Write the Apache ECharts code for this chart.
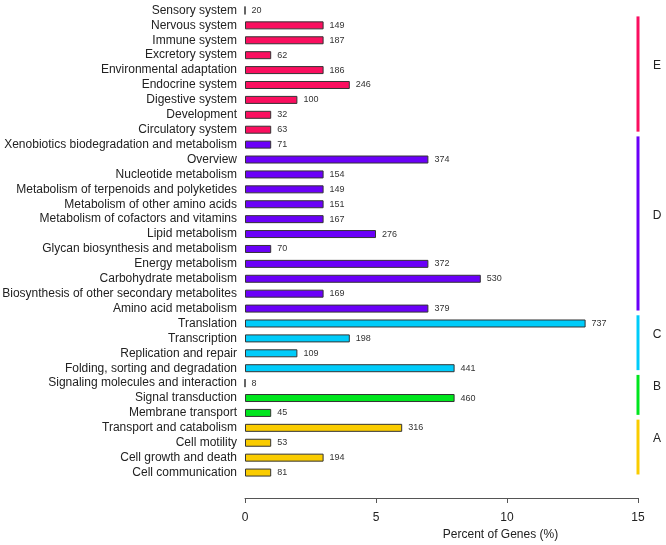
<!DOCTYPE html>
<html>
<head>
<meta charset="utf-8">
<script src="https://cdn.jsdelivr.net/npm/echarts@6/dist/echarts.min.js"></script>
<style>html,body{margin:0;padding:0;background:#fff;}#c{width:666px;height:545px;}</style>
</head>
<body>
<div id="c"></div>
<script>
// Categories from top to bottom
const categories = [
  "Sensory system","Nervous system","Immune system","Excretory system","Environmental adaptation",
  "Endocrine system","Digestive system","Development","Circulatory system",
  "Xenobiotics biodegradation and metabolism","Overview","Nucleotide metabolism",
  "Metabolism of terpenoids and polyketides","Metabolism of other amino acids",
  "Metabolism of cofactors and vitamins","Lipid metabolism","Glycan biosynthesis and metabolism",
  "Energy metabolism","Carbohydrate metabolism","Biosynthesis of other secondary metabolites",
  "Amino acid metabolism",
  "Translation","Transcription","Replication and repair","Folding, sorting and degradation",
  "Signaling molecules and interaction","Signal transduction","Membrane transport",
  "Transport and catabolism","Cell motility","Cell growth and death","Cell communication"
];
// Percent of genes (bar length)
const percents = [
  0,3,3,1,3,4,2,1,1,
  1,7,3,3,3,3,5,1,7,9,3,7,
  13,4,2,8,
  0,8,1,
  6,1,3,1
];
// Gene counts (labels)
const counts = [
  20,149,187,62,186,246,100,32,63,
  71,374,154,149,151,167,276,70,372,530,169,379,
  737,198,109,441,
  8,460,45,
  316,53,194,81
];
// Group of each category
const groupOf = [
  "E","E","E","E","E","E","E","E","E",
  "D","D","D","D","D","D","D","D","D","D","D","D",
  "C","C","C","C",
  "B","B","B",
  "A","A","A","A"
];
const groupNames = ["E","D","C","B","A"];
const groupColors = {E:"#FA0F5F", D:"#6A00F8", C:"#00CCFA", B:"#00E61E", A:"#FACC00"};
const xTicks = [0,5,10,15];

const barData = percents.map((v,i)=>({
  value: v,
  count: counts[i],
  itemStyle: {color: groupColors[groupOf[i]]}
}));

const bracketData = groupNames.map(g=>{
  const s = groupOf.indexOf(g), e = groupOf.lastIndexOf(g);
  return {value:[xTicks[xTicks.length-1], s, e], name:g};
});

const chart = echarts.init(document.getElementById('c'), null, {renderer:'canvas'});
chart.setOption({
  animation:false,
  backgroundColor:'#fff',
  grid:{left:245, right:28, top:3, bottom:65, containLabel:false, outerBoundsMode:'none'},
  xAxis:{
    type:'value', min:0, max:15, interval:5,
    offset:18,
    axisLine:{show:true, onZero:false, lineStyle:{color:'#555', width:1}},
    axisTick:{show:true, length:5, lineStyle:{color:'#555'}},
    splitLine:{show:false},
    axisLabel:{color:'#222', fontSize:12, fontFamily:'Liberation Sans, Arial', margin:14},
    name:'Percent of Genes (%)',
    nameLocation:'middle', nameGap:28,
    nameTextStyle:{color:'#222', fontSize:12, fontFamily:'Liberation Sans, Arial', padding:[0,0,0,118]}
  },
  yAxis:{
    type:'category', data:categories, inverse:true,
    axisLine:{show:false}, axisTick:{show:false}, splitLine:{show:false},
    axisLabel:{color:'#222', fontSize:12, fontFamily:'Liberation Sans, Arial', margin:8, interval:0}
  },
  series:[
    {
      type:'bar', data:barData, barWidth:8,
      itemStyle:{borderColor:'#333', borderWidth:1},
      label:{show:true, position:'right', distance:6, fontSize:9, color:'#333',
             fontFamily:'Liberation Sans, Arial',
             formatter:p=>String(p.data.count)}
    },
    {
      type:'custom', data:bracketData, clip:false, silent:true,
      encode:{x:0, y:1},
      renderItem:function(params, api){
        const s = api.value(1), e = api.value(2), xv = api.value(0);
        const band = api.size([0,1])[1];
        const p1 = api.coord([xv, s]);
        const p2 = api.coord([xv, e]);
        const p0 = api.coord([xv, 0]);
        let y1 = p1[1] - 0.55*band;
        y1 = Math.max(y1, p0[1] + 0.4*band);
        const y2 = p2[1] + 0.13*band;
        const g = groupNames[params.dataIndex];
        return {
          type:'group',
          children:[
            {type:'line', shape:{x1:p1[0], y1:y1, x2:p1[0], y2:y2},
             style:{stroke:groupColors[g], lineWidth:3}},
            {type:'text', style:{text:g, x:p1[0]+19, y:(y1+y2)/2 - 0.55*band,
              textAlign:'center', textVerticalAlign:'middle', fill:'#222',
              font:'12px "Liberation Sans", Arial'}}
          ]
        };
      }
    }
  ]
});
</script>
</body>
</html>
